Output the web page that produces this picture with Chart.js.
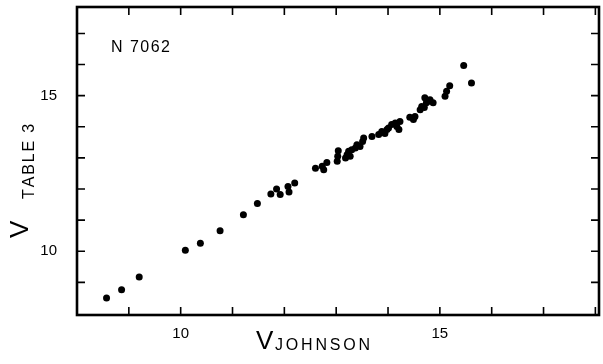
<!DOCTYPE html>
<html>
<head>
<meta charset="utf-8">
<script src="https://cdn.jsdelivr.net/npm/chart.js@4.4.1/dist/chart.umd.min.js"></script>
<style>
  body { margin: 0; background: #fff; }
  #wrap { width: 603px; height: 364px; }
</style>
</head>
<body>
<div id="wrap"><canvas id="n7062-chart" width="603" height="364"></canvas></div>
<script>
// V (Johnson) vs V (Table 3) for N 7062
const vJohnson = [8.57, 8.86, 9.20, 10.09, 10.38, 10.76, 11.21, 11.48, 11.74, 11.85,
  11.92, 12.07, 12.09, 12.20, 12.60, 12.73, 12.76, 12.82, 13.02, 13.03,
  13.04, 13.18, 13.21, 13.24, 13.30, 13.27, 13.37, 13.40, 13.46, 13.51,
  13.53, 13.69, 13.82, 13.88, 13.94, 13.98, 14.01, 14.07, 14.14, 14.17,
  14.23, 14.21, 14.42, 14.49, 14.52, 14.62, 14.65, 14.70, 14.71, 14.74,
  14.78, 14.87, 14.81, 15.10, 15.13, 15.19, 15.46, 15.61];
const vTable3 = [8.50, 8.76, 9.17, 10.03, 10.26, 10.66, 11.17, 11.53, 11.84, 12.00,
  11.82, 12.08, 11.90, 12.19, 12.67, 12.73, 12.62, 12.85, 12.89, 13.05,
  13.23, 13.00, 13.10, 13.21, 13.26, 13.05, 13.32, 13.42, 13.37, 13.53,
  13.64, 13.69, 13.75, 13.85, 13.78, 13.91, 13.96, 14.07, 14.12, 14.01,
  14.17, 13.91, 14.31, 14.23, 14.33, 14.55, 14.65, 14.62, 14.93, 14.77,
  14.82, 14.77, 14.87, 14.98, 15.14, 15.32, 15.97, 15.41];

const xTickLabels = [10, 15];
const yTickLabels = [10, 15];
const clusterName = "N 7062";

const points = vJohnson.map((v, i) => ({x: v, y: vTable3[i]}));

function hasLabel(list, value){
    return list.some(t => Math.abs(t - value) < 1e-6);
}

// draw text char by char so it fills a given width
function drawSpaced(ctx, text, x, y, width){
    let natural = ctx.measureText(text).width;
    let gap = text.length > 1 ? (width - natural) / (text.length - 1) : 0;
    for (let ch of text){
        ctx.fillText(ch, x, y);
        x += ctx.measureText(ch).width + gap;
    }
}

const framePlugin = {
    id: 'frame',
    afterDraw(chart){
        const ctx = chart.ctx;
        const a = chart.chartArea;
        const xs = chart.scales.x, ys = chart.scales.y;
        ctx.save();
        ctx.strokeStyle = '#000';
        ctx.fillStyle = '#000';

        // inward tick marks on all four sides
        ctx.lineWidth = 1.6;
        ctx.beginPath();
        for (let v = 9; v <= 18; v++){
            let px = xs.getPixelForValue(v);
            if (px > a.right - 3) continue;
            ctx.moveTo(px, a.bottom); ctx.lineTo(px, a.bottom - 8);
            ctx.moveTo(px, a.top); ctx.lineTo(px, a.top + 8);
        }
        for (let v = 8; v <= 17; v++){
            let py = ys.getPixelForValue(v);
            if (py > a.bottom - 3 || py < a.top + 3) continue;
            ctx.moveTo(a.left, py); ctx.lineTo(a.left + 8, py);
            ctx.moveTo(a.right, py); ctx.lineTo(a.right - 8, py);
        }
        ctx.stroke();

        // frame
        ctx.lineWidth = 2.6;
        ctx.strokeRect(a.left, a.top, a.right - a.left, a.bottom - a.top);

        // cluster name
        ctx.font = "16px 'Liberation Sans'";
        ctx.textBaseline = 'alphabetic';
        drawSpaced(ctx, clusterName, 111, 52, 59);

        // x title: V with subscript JOHNSON
        ctx.font = "26px 'Liberation Sans'";
        ctx.fillText('V', 256, 349);
        ctx.font = "16px 'Liberation Sans'";
        drawSpaced(ctx, 'JOHNSON', 275, 350, 95);

        // y title: V with subscript TABLE 3, rotated
        ctx.save();
        ctx.translate(28, 238);
        ctx.rotate(-Math.PI / 2);
        ctx.font = "26px 'Liberation Sans'";
        ctx.fillText('V', 0, 0);
        ctx.restore();
        ctx.save();
        ctx.translate(34, 199);
        ctx.rotate(-Math.PI / 2);
        ctx.font = "16px 'Liberation Sans'";
        drawSpaced(ctx, 'TABLE 3', 0, 0, 74);
        ctx.restore();

        ctx.restore();
    }
};

window.onload = function(){

    let scatter = new Chart(
        document.getElementById('n7062-chart'), {
            type: 'scatter',
            data: {
                datasets: [
                    {
                        label: clusterName,
                        data: points,
                        backgroundColor: '#000',
                        borderWidth: 0,
                        pointRadius: 3.5,
                    }
                ]
            },
            options: {
                responsive: false,
                devicePixelRatio: 1,
                animation: false,
                layout: {
                    padding: {left: 0, right: 1, top: 7, bottom: 0}
                },
                plugins: {
                    legend: { display: false },
                    tooltip: { enabled: false },
                    title: { display: false }
                },
                scales: {
                    x: {
                        type: 'linear',
                        min: 8,
                        max: 18.07,
                        grid: { display: false },
                        border: { display: false },
                        afterFit: function(scale){
                            scale.height = 49;
                            scale.paddingLeft = 0;
                            scale.paddingRight = 0;
                        },
                        ticks: {
                            stepSize: 1,
                            autoSkip: false,
                            maxRotation: 0,
                            padding: 2,
                            color: '#000',
                            font: { family: "'Liberation Sans'", size: 15 },
                            callback: function(value){
                                return hasLabel(xTickLabels, value) ? String(value) : '';
                            }
                        }
                    },
                    y: {
                        type: 'linear',
                        min: 7.95,
                        max: 17.85,
                        grid: { display: false },
                        border: { display: false },
                        afterFit: function(scale){
                            scale.width = 77;
                            scale.paddingTop = 0;
                            scale.paddingBottom = 0;
                        },
                        ticks: {
                            stepSize: 1,
                            autoSkip: false,
                            padding: 12,
                            color: '#000',
                            font: { family: "'Liberation Sans'", size: 15 },
                            callback: function(value){
                                return hasLabel(yTickLabels, value) ? String(value) : '';
                            }
                        }
                    }
                }
            },
            plugins: [framePlugin]
        }
    );

}
</script>
</body>
</html>
